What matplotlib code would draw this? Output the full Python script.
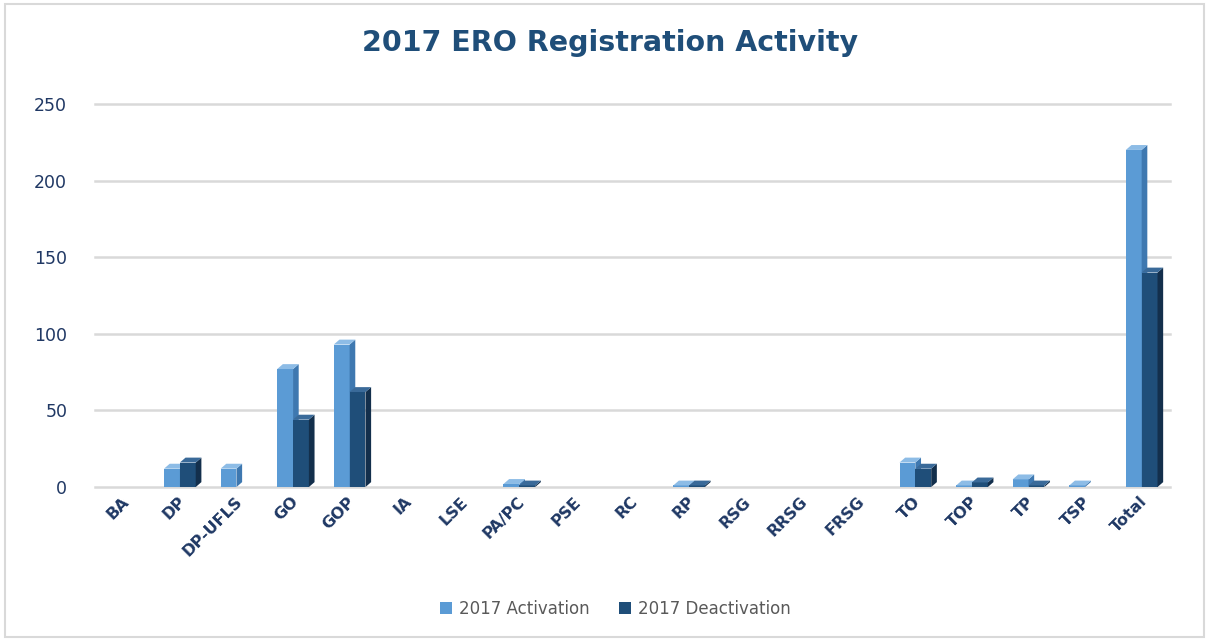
import matplotlib
matplotlib.use("Agg")
import matplotlib.pyplot as plt
from matplotlib.patches import Polygon, Rectangle
import numpy as np

categories = ["BA", "DP", "DP-UFLS", "GO", "GOP", "IA", "LSE", "PA/PC", "PSE", "RC",
              "RP", "RSG", "RRSG", "FRSG", "TO", "TOP", "TP", "TSP", "Total"]
activation = [0, 12, 12, 77, 93, 0, 0, 2, 0, 0, 1, 0, 0, 0, 16, 1, 5, 1, 220]
deactivation = [0, 16, 0, 44, 62, 0, 0, 1, 0, 0, 1, 0, 0, 0, 12, 3, 1, 0, 140]

series = [
    ("2017 Activation", activation, "#5B9BD5", "#3E78B0", "#8DBCE6"),
    ("2017 Deactivation", deactivation, "#1F4E79", "#132F4C", "#3A6A99"),
]

fig = plt.figure(figsize=(12.09, 6.41), dpi=100)
fig.patches.append(Rectangle((0.004, 0.006), 0.992, 0.988, transform=fig.transFigure,
                             fill=False, edgecolor="#D9D9D9", linewidth=1.5))
ax = fig.add_axes([0.0786, 0.2402, 0.8891, 0.5976])

x = np.arange(len(categories))
w = 0.28
dx, dy = 0.10, 3.2  # depth of the fake 3d faces

for i, (name, vals, front, side, top) in enumerate(series):
    offs = x - w / 2 + i * w
    ax.bar(offs, vals, width=w, color=front, label=name, zorder=3 + i * 2)
    for xc, v in zip(offs, vals):
        if v <= 0:
            continue
        r = xc + w / 2
        l = xc - w / 2
        ax.add_patch(Polygon([(r, 0), (r + dx, dy), (r + dx, v + dy), (r, v)],
                             closed=True, facecolor=side, edgecolor="none", zorder=3 + i * 2))
        ax.add_patch(Polygon([(l, v), (l + dx, v + dy), (r + dx, v + dy), (r, v)],
                             closed=True, facecolor=top, edgecolor="none", zorder=3 + i * 2))

ax.set_xlim(-0.5, len(categories) - 0.5)
ax.set_ylim(0, 250)
ax.set_yticks(range(0, 251, 50))
ax.grid(axis="y", color="#D9D9D9", linewidth=1.8, zorder=0)
ax.set_axisbelow(True)
for gl in ax.get_ygridlines():
    gl.set_clip_on(False)
for s in ax.spines.values():
    s.set_visible(False)
ax.tick_params(length=0)
ax.tick_params(axis="y", pad=20, labelsize=12.5, labelcolor="#203864")
ax.set_xticks(x - 0.04)
ax.set_xticklabels(categories, rotation=45, ha="right", rotation_mode="anchor",
                   fontsize=11.5, fontweight="bold", color="#1F3864")
ax.tick_params(axis="x", pad=5)

fig.suptitle("2017 ERO Registration Activity", x=0.505, y=0.955, fontsize=20.5,
             fontweight="bold", color="#1F4E79")

leg = fig.legend(loc="center", bbox_to_anchor=(0.509, 0.05), ncol=2, frameon=False,
                 fontsize=12, handlelength=0.7, handleheight=0.7, handletextpad=0.4,
                 columnspacing=1.8)
for t in leg.get_texts():
    t.set_color("#595959")

fig.savefig("out.png", dpi=100)
